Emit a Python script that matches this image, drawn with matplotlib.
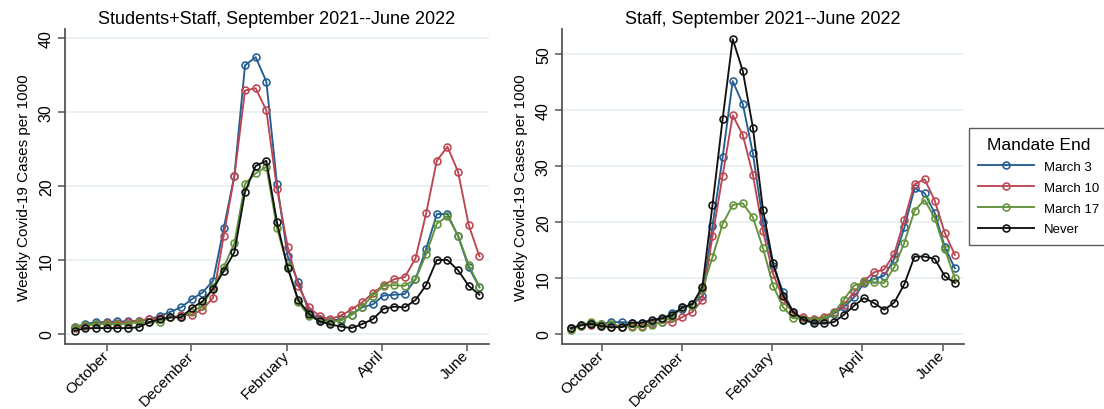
import numpy as np
import matplotlib
matplotlib.use("Agg")
import matplotlib.pyplot as plt

plt.rcParams['font.family'] = ['Liberation Sans', 'DejaVu Sans']

# weekly points, Sept 2021 -- June 2022 (week index 0..38)
weeks = np.arange(39)
month_labels = ["October", "December", "February", "April", "June"]
month_pos = [3.05, 10.95, 19.9, 28.85, 36.8]
series_names = ["March 3", "March 10", "March 17", "Never"]

# Students+Staff
all_mar3 = [0.9, 1.35, 1.6, 1.6, 1.7, 1.7, 1.8, 2.0, 2.4, 3.0, 3.6, 4.7, 5.6, 7.2, 14.3, 21.4,
            36.3, 37.4, 34.1, 20.3, 10.5, 7.0, 3.0, 2.0, 1.8, 2.0, 2.6, 3.6, 4.0, 5.2, 5.3, 5.4,
            7.4, 11.5, 16.2, 16.2, 13.2, 9.0, 6.3]
all_mar10 = [0.77, 1.1, 1.35, 1.5, 1.5, 1.6, 1.8, 2.0, 2.1, 2.25, 2.5, 2.6, 3.3, 4.9, 13.3, 21.3,
             32.9, 33.2, 30.2, 19.6, 11.8, 6.5, 3.6, 2.4, 2.0, 2.5, 3.3, 4.3, 5.5, 6.6, 7.4, 7.7,
             10.2, 16.3, 23.4, 25.3, 21.9, 14.7, 10.5]
all_mar17 = [0.9, 1.2, 1.35, 1.35, 1.35, 1.4, 1.6, 1.6, 1.6, 2.25, 2.3, 3.0, 3.8, 6.3, 9.0, 12.3,
             20.3, 21.7, 22.6, 14.3, 9.2, 4.3, 2.4, 1.8, 1.6, 1.8, 2.6, 3.7, 5.2, 6.5, 6.6, 6.5,
             7.4, 10.8, 14.9, 15.9, 13.3, 9.3, 6.4]
all_never = [0.45, 0.77, 0.8, 0.8, 0.8, 0.8, 0.9, 1.6, 2.0, 2.25, 2.25, 3.5, 4.4, 6.1, 8.5, 11.05,
             19.2, 22.7, 23.4, 15.1, 8.9, 4.6, 2.7, 1.7, 1.3, 1.0, 0.8, 1.35, 2.0, 3.4, 3.7, 3.6,
             4.6, 6.6, 10.0, 10.0, 8.6, 6.5, 5.3]

# Staff only
staff_mar3 = [1.0, 1.6, 2.0, 1.8, 2.1, 2.1, 2.0, 2.0, 2.2, 2.7, 3.7, 4.5, 5.3, 6.8, 19.3, 31.5,
              45.1, 41.0, 32.2, 20.0, 12.2, 7.4, 3.9, 2.4, 2.25, 2.4, 3.6, 4.75, 6.5, 9.1, 9.8, 10.4,
              13.4, 19.0, 26.0, 25.1, 21.6, 15.5, 11.7]
staff_mar10 = [1.0, 1.5, 1.6, 1.5, 1.3, 1.3, 1.5, 1.5, 1.8, 2.1, 2.1, 3.0, 3.9, 6.1, 17.4, 28.2,
               39.0, 35.5, 28.4, 18.3, 10.7, 6.3, 3.6, 3.0, 2.7, 3.0, 3.9, 5.2, 7.4, 9.5, 11.0, 11.5,
               14.3, 20.4, 26.7, 27.6, 23.8, 18.0, 14.1]
staff_mar17 = [0.7, 1.5, 2.1, 1.8, 1.8, 1.3, 1.3, 1.2, 1.6, 2.1, 3.0, 4.75, 5.0, 8.0, 13.7, 19.6,
               23.0, 23.3, 20.8, 15.3, 8.6, 4.75, 2.8, 2.7, 2.5, 2.7, 3.7, 6.1, 8.6, 9.2, 9.2, 9.1,
               11.9, 16.3, 22.0, 23.9, 20.7, 15.1, 9.9]
staff_never = [1.0, 1.6, 1.8, 1.4, 1.2, 1.2, 2.0, 2.0, 2.5, 2.8, 3.3, 4.75, 5.3, 8.4, 23.0, 38.3,
               52.6, 46.9, 36.8, 22.1, 12.6, 6.8, 3.9, 2.55, 1.9, 1.9, 2.1, 3.4, 5.0, 6.4, 5.5, 4.3,
               5.6, 8.9, 13.8, 13.8, 13.4, 10.3, 9.1]

colors = ["#245d92", "#bb4651", "#62923a", "#111111"]

fig = plt.figure(figsize=(11.04, 4.10), dpi=100)
ax1 = fig.add_axes([65/1104, 1-345/410, 424/1104, 315/410])
ax2 = fig.add_axes([562/1104, 1-345/410, 402/1104, 315/410])

panels = [
    (ax1, [all_mar3, all_mar10, all_mar17, all_never],
     "Students+Staff, September 2021--June 2022", (-1.35, 41.2), [0, 10, 20, 30, 40]),
    (ax2, [staff_mar3, staff_mar10, staff_mar17, staff_never],
     "Staff, September 2021--June 2022", (-1.8, 54.4), [0, 10, 20, 30, 40, 50]),
]

for ax, data, title, ylim, yt in panels:
    for vals, c, name in zip(data, colors, series_names):
        ax.plot(weeks, vals, color=c, lw=1.35, marker='o', ms=5, mfc='none',
                mec=c, mew=1.15, label=name)
    ax.set_xlim(-0.9, 38.9)
    ax.set_ylim(*ylim)
    ax.set_yticks(yt)
    ax.set_xticks(month_pos)
    ax.set_xticklabels(month_labels, rotation=45, ha='right', va='center',
                       rotation_mode='anchor', fontsize=11)
    for lab in ax.get_yticklabels():
        lab.set_rotation(90)
        lab.set_va('center')
        lab.set_fontsize(11.5)
    ax.grid(axis='y', color='#e4edf0', lw=1.1)
    ax.set_axisbelow(True)
    for s in ['top', 'right']:
        ax.spines[s].set_visible(False)
    for s in ['left', 'bottom']:
        ax.spines[s].set_color('#555555')
        ax.spines[s].set_linewidth(1.3)
    ax.tick_params(direction='out', length=5, width=1.1, color='#555555')
    ax.tick_params(axis='x', pad=1.5)
    ax.tick_params(axis='y', pad=3)
    ax.set_ylabel("Weekly Covid-19 Cases per 1000", fontsize=11, labelpad=6)
    ax.set_title(title, fontsize=13, pad=4)

handles, labels = ax2.get_legend_handles_labels()
leg = fig.legend(handles, labels, title="Mandate End", loc='upper left',
                 bbox_to_anchor=(969/1104, 1-129/410), fontsize=9.5, title_fontsize=12.5,
                 frameon=True, fancybox=False, edgecolor='#333333', handlelength=4.2,
                 borderpad=0.7, labelspacing=0.65, borderaxespad=0)
leg.get_frame().set_linewidth(1.0)

fig.savefig("out.png", dpi=100)
